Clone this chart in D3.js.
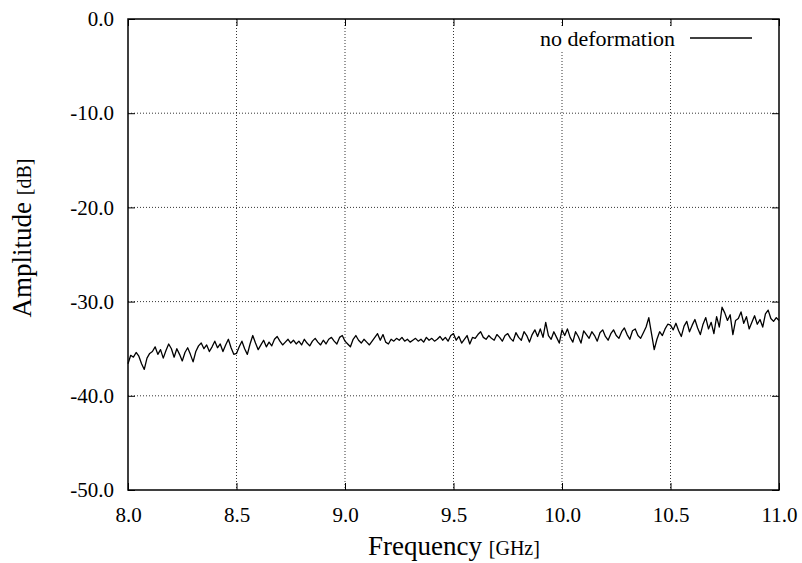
<!DOCTYPE html>
<html>
<head>
<meta charset="utf-8">
<script src="https://cdn.jsdelivr.net/npm/d3@7"></script>
<style>
  html, body { margin: 0; padding: 0; background: #fff; }
  svg { display: block; }
  text { font-family: "Liberation Serif", "Times New Roman", serif; fill: #000; }
</style>
</head>
<body>
<svg id="chart" width="802" height="563"></svg>
<script>
// Measured transmission amplitude, 8–11 GHz, sampled every 12.5 MHz
const freqStart = 8.0;
const freqStep = 0.0125;
const amplitude = [
  -36.6, -35.7, -35.9, -35.4, -35.8, -36.6, -37.2, -36.0, -35.5, -35.3,
  -34.8, -35.6, -35.1, -36.0, -35.2, -34.5, -35.0, -35.9, -35.0, -35.6,
  -36.3, -35.4, -34.9, -35.6, -36.4, -35.3, -34.7, -34.4, -35.0, -34.6,
  -35.3, -34.8, -34.2, -34.9, -34.5, -35.3, -34.6, -34.0, -34.9, -35.6,
  -35.5, -34.8, -34.2, -35.0, -35.6, -34.5, -33.6, -34.4, -35.1, -34.6,
  -34.1, -34.8, -34.3, -34.7, -34.0, -33.7, -34.2, -34.6, -34.3, -34.0,
  -34.4, -34.1, -34.5, -34.2, -34.6, -34.0, -34.4, -34.7, -34.2, -33.9,
  -34.3, -34.6, -34.1, -34.5, -34.0, -33.8, -34.2, -34.5, -33.8, -33.6,
  -34.2, -34.5, -34.8, -34.0, -33.6, -34.1, -34.4, -34.0, -34.3, -34.6,
  -34.2, -33.8, -33.4, -34.1, -33.5, -34.3, -34.5, -34.0, -34.2, -33.9,
  -34.1, -33.8, -34.2, -34.0, -34.3, -34.1, -33.9, -34.2, -34.0, -34.3,
  -33.8, -34.1, -33.9, -34.2, -34.0, -33.7, -34.1, -33.8, -34.2, -33.6,
  -33.4, -34.1, -33.7, -34.4, -34.0, -33.6, -34.5, -33.8, -33.9, -33.5,
  -33.2, -33.8, -34.0, -33.6, -33.9, -34.1, -33.5, -33.8, -34.2, -33.6,
  -33.4, -33.9, -34.2, -33.3, -33.8, -34.1, -33.2, -33.6, -34.3, -33.5,
  -33.0, -33.7, -32.9, -33.8, -32.2, -33.6, -34.0, -33.2, -33.8, -34.4,
  -33.0, -33.6, -32.9, -33.8, -34.3, -33.2, -33.7, -34.4, -33.1, -33.5,
  -33.9, -33.2, -33.6, -34.2, -33.3, -33.0, -33.7, -34.1, -33.4, -33.0,
  -33.6, -33.9, -33.2, -32.8, -33.5, -34.0, -33.1, -32.9, -33.6, -33.9,
  -33.3, -32.7, -31.7, -33.4, -35.1, -34.0, -33.2, -33.6, -32.9, -32.4,
  -32.5, -33.0, -32.3, -33.1, -33.7, -32.6, -32.1, -33.2, -32.5, -31.9,
  -32.8, -33.5, -32.4, -31.7, -32.9, -32.2, -33.4, -31.6, -32.7, -30.6,
  -31.2, -32.0, -31.4, -33.5, -32.0, -31.8, -31.1, -32.3, -31.6, -32.9,
  -32.2, -31.5, -32.4, -31.9, -32.7, -31.3, -30.9, -31.8, -32.1, -31.7,
  -32.0
];
const xTicks = [8.0, 8.5, 9.0, 9.5, 10.0, 10.5, 11.0];
const yTicks = [0, -10, -20, -30, -40, -50];
const seriesName = "no deformation";

const svg = d3.select("#chart");
const plotLeft = 128, plotRight = 779, plotTop = 19, plotBottom = 490;

const x = d3.scaleLinear().domain([8.0, 11.0]).range([plotLeft, plotRight]);
const y = d3.scaleLinear().domain([-50, 0]).range([plotBottom, plotTop]);

const points = amplitude.map((v, i) => [freqStart + i * freqStep, v]);

// dotted grid
const grid = svg.append("g").attr("stroke", "#000").attr("stroke-width", 0.8)
  .attr("stroke-dasharray", "1,2");
xTicks.slice(1, -1).forEach(t => {
  grid.append("line").attr("x1", x(t)).attr("x2", x(t)).attr("y1", plotTop).attr("y2", plotBottom);
});
yTicks.slice(1, -1).forEach(t => {
  grid.append("line").attr("x1", plotLeft).attr("x2", plotRight).attr("y1", y(t)).attr("y2", y(t));
});

// tick labels use a plain hyphen for negatives
const fmt = d3.formatLocale({ decimal: ".", thousands: ",", grouping: [3], currency: ["", ""], minus: "-" }).format(".1f");

// axes with inward ticks on all four sides
const axB = svg.append("g").attr("transform", `translate(0,${plotBottom})`)
  .call(d3.axisBottom(x).tickValues(xTicks).tickFormat(fmt).tickSizeInner(-7).tickSizeOuter(0).tickPadding(17));
const axL = svg.append("g").attr("transform", `translate(${plotLeft},0)`)
  .call(d3.axisLeft(y).tickValues(yTicks).tickFormat(fmt).tickSizeInner(-7).tickSizeOuter(0).tickPadding(14));
const axT = svg.append("g").attr("transform", `translate(0,${plotTop})`)
  .call(d3.axisTop(x).tickValues(xTicks).tickFormat("").tickSizeInner(-7).tickSizeOuter(0));
const axR = svg.append("g").attr("transform", `translate(${plotRight},0)`)
  .call(d3.axisRight(y).tickValues(yTicks).tickFormat("").tickSizeInner(-7).tickSizeOuter(0));
[axB, axL, axT, axR].forEach(a => {
  a.select(".domain").remove();
  a.selectAll(".tick line").attr("stroke", "#000").attr("stroke-width", 1);
});
axB.selectAll(".tick text").attr("font-size", 21).attr("font-family", "Liberation Serif").attr("fill", "#000");
axL.selectAll(".tick text").attr("font-size", 21).attr("font-family", "Liberation Serif").attr("fill", "#000");

// legend (white background interrupts grid)
const lg = svg.append("g");
lg.append("rect").attr("x", 530).attr("y", 26).attr("width", 232).attr("height", 24).attr("fill", "#fff");
lg.append("text").attr("x", 675).attr("y", 46).attr("text-anchor", "end").attr("font-size", 22).text(seriesName);
lg.append("line").attr("x1", 690).attr("x2", 752).attr("y1", 38).attr("y2", 38)
  .attr("stroke", "#000").attr("stroke-width", 1.3);

// data line
svg.append("path").datum(points)
  .attr("fill", "none").attr("stroke", "#000").attr("stroke-width", 1.3)
  .attr("stroke-linejoin", "round")
  .attr("d", d3.line().x(d => x(d[0])).y(d => y(d[1])));

// frame
svg.append("rect").attr("x", plotLeft).attr("y", plotTop)
  .attr("width", plotRight - plotLeft).attr("height", plotBottom - plotTop)
  .attr("fill", "none").attr("stroke", "#000").attr("stroke-width", 1.5);

// axis titles
const xt = svg.append("text").attr("x", 454).attr("y", 555).attr("text-anchor", "middle");
xt.append("tspan").attr("font-size", 27).text("Frequency ");
xt.append("tspan").attr("font-size", 20).text("[GHz]");

const yt = svg.append("text").attr("transform", `translate(31,238) rotate(-90)`)
  .attr("text-anchor", "middle");
yt.append("tspan").attr("font-size", 27).text("Amplitude ");
yt.append("tspan").attr("font-size", 20).text("[dB]");
</script>
</body>
</html>
